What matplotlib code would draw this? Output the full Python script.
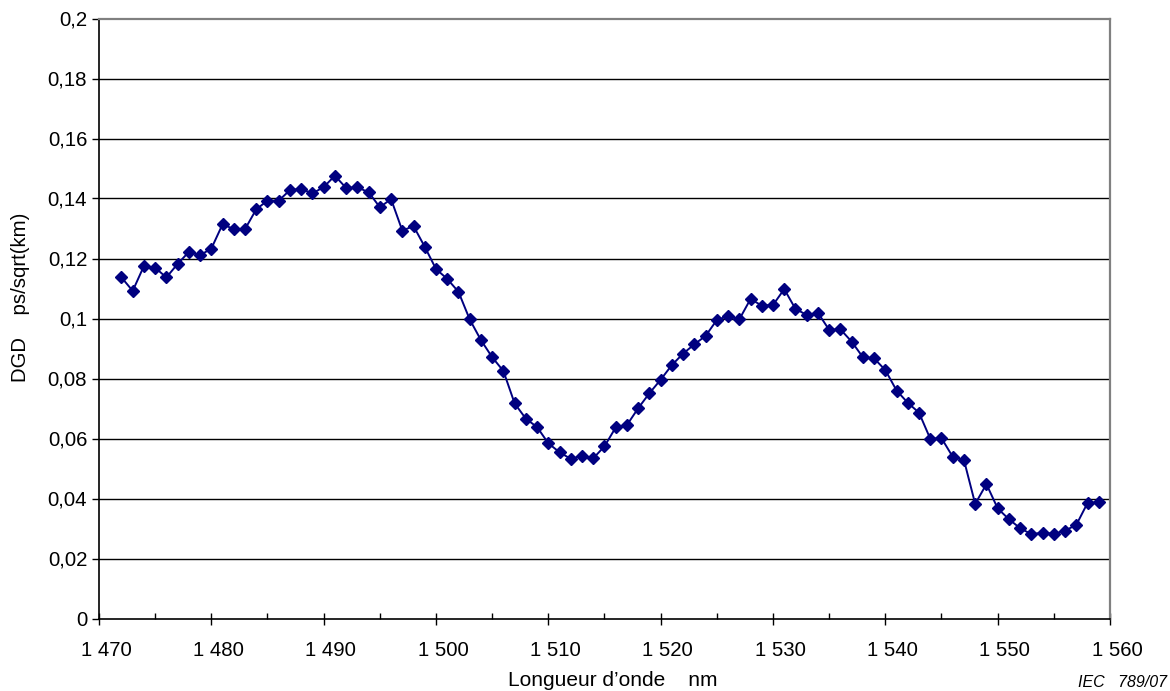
import matplotlib
matplotlib.use("Agg")
import matplotlib.pyplot as plt
import matplotlib.transforms as mtransforms
from matplotlib.ticker import MultipleLocator

wavelength = list(range(1472, 1560))
dgd = [
    0.1137, 0.1092, 0.1175, 0.1169, 0.1137, 0.1182, 0.1222, 0.1211, 0.1233, 0.1314,
    0.1298, 0.1298, 0.1364, 0.1393, 0.1393, 0.1428, 0.1432, 0.1417, 0.1438, 0.1476,
    0.1435, 0.1437, 0.1421, 0.1371, 0.1398, 0.1293, 0.1308, 0.1239, 0.1165, 0.1132,
    0.1089, 0.0997, 0.0928, 0.0871, 0.0825, 0.0717, 0.0666, 0.0638, 0.0584, 0.0554,
    0.0532, 0.0543, 0.0534, 0.0574, 0.0637, 0.0645, 0.0701, 0.0751, 0.0796, 0.0845,
    0.0883, 0.0914, 0.0942, 0.0995, 0.1008, 0.0997, 0.1065, 0.1043, 0.1045, 0.1098,
    0.1032, 0.1012, 0.1019, 0.0962, 0.0964, 0.0923, 0.0871, 0.0867, 0.0828, 0.0760,
    0.0719, 0.0686, 0.0599, 0.0601, 0.0539, 0.0528, 0.0382, 0.0448, 0.0367, 0.0331,
    0.0301, 0.0281, 0.0286, 0.0282, 0.0293, 0.0312, 0.0385, 0.0387,
]
y_ticks = [0, 0.02, 0.04, 0.06, 0.08, 0.1, 0.12, 0.14, 0.16, 0.18, 0.2]
y_tick_labels = ["0", "0,02", "0,04", "0,06", "0,08", "0,1", "0,12", "0,14", "0,16", "0,18", "0,2"]
x_ticks = [1470, 1480, 1490, 1500, 1510, 1520, 1530, 1540, 1550, 1560]
x_tick_labels = ["1 470", "1 480", "1 490", "1 500", "1 510", "1 520", "1 530", "1 540", "1 550", "1 560"]

plt.rcParams['font.family'] = ['Liberation Sans', 'DejaVu Sans']

W, H = 1170, 691
fig = plt.figure(figsize=(W / 100, H / 100), dpi=100)
ax = fig.add_axes([99 / W, (H - 618.5) / H, (1110 - 99) / W, (618.5 - 18.5) / H])

ax.plot(wavelength, dgd, color='#000080', lw=1.4, marker='D', markersize=6.3,
        markerfacecolor='#000080', markeredgecolor='#000080', zorder=3, clip_on=False)

ax.set_xlim(1470, 1560)
ax.set_ylim(0, 0.2)
ax.set_yticks(y_ticks)
ax.set_yticklabels(y_tick_labels)
ax.set_xticks(x_ticks)
ax.set_xticklabels(x_tick_labels)
ax.xaxis.set_minor_locator(MultipleLocator(5))

for yv in y_ticks[1:-1]:
    ax.axhline(yv, color='black', lw=1.0, zorder=1)

for s in ['top', 'right']:
    ax.spines[s].set_color('#808080')
    ax.spines[s].set_linewidth(1.6)
for s in ['left', 'bottom']:
    ax.spines[s].set_color('black')
    ax.spines[s].set_linewidth(1.2)

ax.tick_params(axis='both', which='major', direction='out', length=5, width=1.0,
               labelsize=14.7, colors='black')
ax.tick_params(axis='x', which='minor', direction='in', length=4.5, width=1.0)
ax.tick_params(axis='x', which='major', direction='inout', length=9, pad=12)

shift = mtransforms.ScaledTranslation(7 / 100, 0, fig.dpi_scale_trans)
for lab in ax.get_xticklabels():
    lab.set_transform(lab.get_transform() + shift)

fig.text(20 / W, 1 - 297 / H, "DGD    ps/sqrt(km)", rotation=90, ha='center', va='center',
         fontsize=14.7)
fig.text(613 / W, 1 - 680 / H, "Longueur d\u2019onde    nm", ha='center', va='center',
         fontsize=15)
fig.text(1167 / W, 1 - 682.5 / H, "IEC   789/07", ha='right', va='center',
         fontsize=11.5, style='italic')

fig.savefig("out.png", dpi=100)
